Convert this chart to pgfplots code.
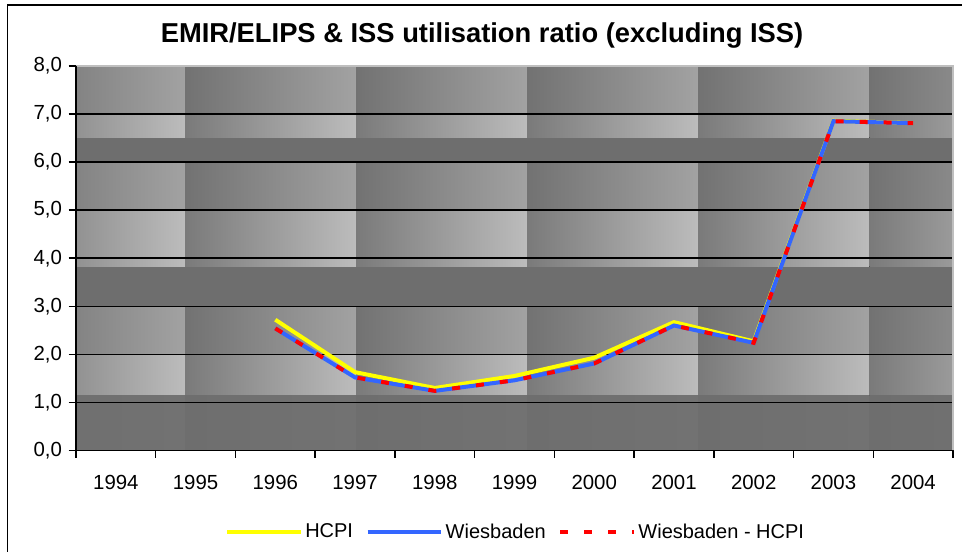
\documentclass[border=0pt]{standalone}
\usepackage{pgfplots}
\pgfplotsset{compat=1.18}
\usepackage{fontspec}
\setmainfont{Liberation Sans}
\definecolor{hcpi}{RGB}{255,255,0}
\definecolor{wies}{RGB}{51,102,255}
\definecolor{diffc}{RGB}{255,0,0}
\definecolor{dkA}{RGB}{110,110,110}
\definecolor{dkB}{RGB}{114,114,114}
\definecolor{mdL}{RGB}{114,114,114}
\definecolor{mdR}{RGB}{162,162,162}
\definecolor{ltL}{RGB}{122,122,122}
\definecolor{ltR}{RGB}{188,188,188}
% #1 left x, #2 right x, #3 left fraction (percent), #4 right fraction (percent)
\newcommand\tile[4]{%
  \fill[left color=mdR!#3!mdL,right color=mdR!#4!mdL] (axis cs:#1,7) rectangle (axis cs:#2,8);
  \fill[left color=ltR!#3!ltL,right color=ltR!#4!ltL] (axis cs:#1,6.502) rectangle (axis cs:#2,7);
  \fill[dkA] (axis cs:#1,6) rectangle (axis cs:#2,6.502);
  \fill[left color=mdR!#3!mdL,right color=mdR!#4!mdL] (axis cs:#1,5) rectangle (axis cs:#2,6);
  \fill[left color=ltR!#3!ltL,right color=ltR!#4!ltL] (axis cs:#1,3.818) rectangle (axis cs:#2,5);
  \fill[dkA] (axis cs:#1,3) rectangle (axis cs:#2,3.818);
  \fill[left color=mdR!#3!mdL,right color=mdR!#4!mdL] (axis cs:#1,2) rectangle (axis cs:#2,3);
  \fill[left color=ltR!#3!ltL,right color=ltR!#4!ltL] (axis cs:#1,1.134) rectangle (axis cs:#2,2);
  \fill[left color=dkB!#3!dkA,right color=dkB!#4!dkA] (axis cs:#1,0) rectangle (axis cs:#2,1.134);
}
\begin{document}
\begin{tikzpicture}
\path[use as bounding box] (0,0) rectangle (721.5pt,413.25pt);
\draw[line width=1.1pt] (5.6pt,-20pt) -- (5.6pt,409.6pt) -- (740pt,409.6pt);
\node[font=\bfseries\fontsize{20.5}{24}\selectfont] at (361.5pt,387pt) {EMIR/ELIPS \& ISS utilisation ratio (excluding ISS)};
\begin{axis}[
  at={(57pt,75.4pt)}, anchor=south west,
  scale only axis, width=657.75pt, height=288.4pt,
  xmin=-0.5, xmax=10.5, ymin=0, ymax=8,
  clip=false,
  axis line style={draw=none},
  xtick={-0.5,0.5,...,10.5}, xticklabels={},
  extra x ticks={0,...,10},
  extra x tick labels={1994,1995,1996,1997,1998,1999,2000,2001,2002,2003,2004},
  extra x tick style={major tick length=0pt},
  xticklabel style={yshift=-15pt},
  xtick pos=bottom, ytick pos=left,
  ytick={0,...,8},
  tick align=outside, major tick length=5.5pt,
  every tick/.style={black, line width=1.1pt},
  tick label style={font=\fontsize{15.3}{18}\selectfont},
  /pgf/number format/assume math mode=true,
  yticklabel style={xshift=-1.5pt, /pgf/number format/.cd, fixed, fixed zerofill, precision=1, use comma},
  legend columns=3,
  legend style={at={(0.5017,-0.212)}, anchor=center, draw=none, fill=none,
    font=\fontsize{15}{18}\selectfont,
    /tikz/every even column/.append style={column sep=7.5pt}},
  legend image code/.code={\draw[#1] (0pt,0pt) -- (55pt,0pt);},
]
\tile{-0.5}{0.8676}{36}{100}
\tile{0.8676}{3.0131}{0}{100}
\tile{3.0131}{5.1586}{0}{100}
\tile{5.1586}{7.3041}{0}{100}
\tile{7.3041}{9.4496}{0}{100}
\tile{9.4496}{10.5}{0}{49}
\pgfplotsinvokeforeach{1,...,8}{\draw[black, line width=1.1pt] (axis cs:-0.5,#1) -- (axis cs:10.5,#1);}
\addplot[hcpi, line width=3pt] coordinates {(2,2.72)(3,1.63)(4,1.30)(5,1.55)(6,1.93)(7,2.67)(8,2.27)(9,6.86)(10,6.81)};
\addlegendentry{HCPI}
\addplot[wies, line width=3pt] coordinates {(2,2.54)(3,1.52)(4,1.24)(5,1.46)(6,1.81)(7,2.60)(8,2.24)(9,6.85)(10,6.81)};
\addlegendentry{Wiesbaden}
\addplot[diffc, line width=3pt, dash pattern=on 6pt off 12pt] coordinates {(2,2.54)(3,1.52)(4,1.24)(5,1.46)(6,1.81)(7,2.60)(8,2.24)(9,6.85)(10,6.81)};
\addlegendentry{Wiesbaden - HCPI}
\draw[black!25, line width=1.1pt] (axis cs:-0.5,8) -- (axis cs:10.5,8) -- (axis cs:10.5,0);
\draw[black, line width=1.1pt] (axis cs:-0.5,8) -- (axis cs:-0.5,0) -- (axis cs:10.5,0);
\end{axis}
\end{tikzpicture}
\end{document}
